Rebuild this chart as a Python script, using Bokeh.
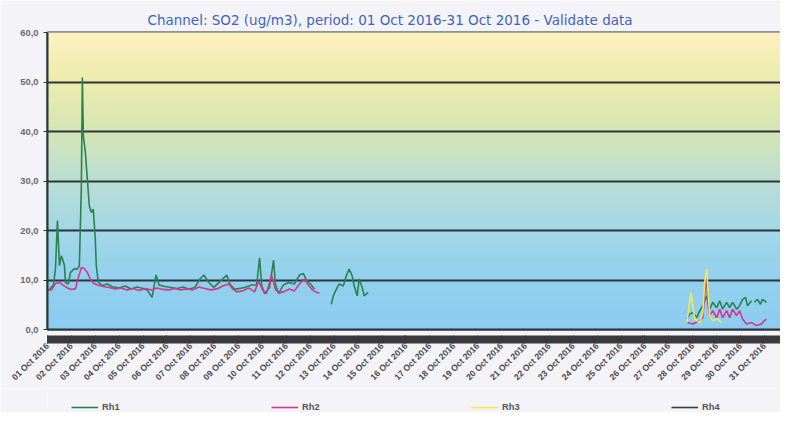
import numpy as np
import pandas as pd
from bokeh.plotting import figure
from bokeh.layouts import column
from bokeh.models import FixedTicker, Legend, LegendItem, Range1d, ColumnDataSource
from bokeh.embed import file_html
from bokeh.resources import INLINE

nan = float("nan")

# ---- data (hours since 01 Oct 2016 00:00, value in ug/m3) ----
rh1_hours = [0, 2, 6, 8, 10, 12, 14, 17, 18, 21, 23, 27, 30, 32, 34, 35, 36, 38, 40, 42, 44, 46, 48, 49, 51, 55,
             60, 66, 72, 78, 84, 90, 96, 100, 105, 109, 112, 118, 124, 130, 136, 142, 148, 153, 157, 162, 167,
             180, 183, 188, 198, 205, 210, 213, 215, 218, 223, 227, 229, 232, 237, 242, 248, 253, 257, 260, 265, 268,
             276,
             285, 287, 290, 293, 297, 300, 303, 306, 308, 311, 313, 316, 318, 322,
             400,
             642, 645, 648, 652, 655, 658, 662, 665, 668, 672, 675, 678, 682, 685, 688, 692, 695, 698, 701, 703, 707,
             708,
             710, 713, 716, 718, 722]
rh1_values = [8.0, 8.1, 9.0, 12.2, 22.0, 12.9, 14.9, 13.0, 9.5, 9.2, 11.5, 12.3, 12.2, 12.9, 29.0, 50.9, 39.1, 35.8,
              30.4, 25.0, 23.6, 24.3, 18.2, 12.9, 9.5, 8.9,
              9.2, 8.6, 8.4, 8.8, 8.2, 8.6, 8.3, 8.0, 6.5, 11.0, 9.0, 8.7, 8.5, 8.3, 8.6, 8.2, 8.5, 10.2, 11.0, 9.5, 8.5,
              11.0, 9.2, 8.1, 8.5, 9.0, 9.0, 14.5, 9.0, 7.2, 8.5, 14.0, 9.0, 7.3, 9.0, 9.5, 9.2, 11.0, 11.3, 10.0, 9.0, 8.1,
              nan,
              5.1, 6.8, 8.1, 9.2, 8.8, 10.8, 12.2, 10.8, 8.8, 6.8, 10.2, 8.5, 6.8, 7.5,
              nan,
              2.1, 3.1, 3.4, 2.4, 3.8, 4.8, 6.8, 4.1, 5.5, 4.4, 5.8, 4.1, 5.5, 4.4, 5.5, 4.1, 4.8, 6.1, 6.5, 4.8, 5.8,
              nan,
              5.5, 6.1, 5.1, 6.1, 5.5]

rh2_hours = [0, 4, 8, 12, 16, 20, 24, 28, 31, 34, 37, 40, 43, 46, 50, 56, 62, 68, 74, 80, 86, 92, 98, 104, 110, 116,
             122, 128, 134, 140, 146, 152, 158, 164, 170, 176, 182, 186, 190, 196, 202, 208, 212, 216, 220, 225, 229,
             233, 238, 243, 248, 253, 258, 262, 266, 270, 273,
             400,
             642, 648, 655, 658, 660, 662, 663, 665, 668, 672, 675, 678, 682, 685, 688, 692, 695, 698, 702, 707, 712,
             717, 720, 722]
rh2_values = [8.0, 8.0, 9.3, 9.5, 8.9, 8.4, 8.1, 8.2, 10.5, 12.5, 12.3, 11.5, 10.2, 9.4, 9.0, 8.7, 8.5, 8.2, 8.4, 8.0,
              8.3, 7.9, 8.3, 8.0, 8.4, 8.1, 8.0, 8.3, 8.0, 8.2, 8.0, 8.6, 8.3, 8.0, 8.2, 8.8, 9.2, 8.2, 7.6, 7.8, 8.4,
              7.6, 9.8, 8.0, 7.3, 11.0, 8.0, 7.4, 7.7, 8.2, 7.8, 9.2, 10.2, 9.0, 8.0, 7.5, 7.4,
              nan,
              1.4, 1.1, 1.8, 2.4, 7.5, 10.8, 5.5, 2.8, 3.8, 2.4, 4.1, 2.4, 3.8, 2.4, 4.1, 2.8, 3.8, 2.1, 1.1, 1.4, 0.8,
              1.1, 1.8, 2.1]

rh3_hours = [642, 644, 646, 648, 650, 655, 658, 660, 662, 663, 665, 668, 673, 677]
rh3_values = [1.4, 4.1, 7.5, 4.8, 2.1, 1.4, 3.4, 9.5, 12.2, 8.8, 2.8, 1.8, 2.1, 1.4]

rh4_hours = [0]
rh4_values = [nan]

series_names = ["Rh1", "Rh2", "Rh3", "Rh4"]
series_colors = ["#2a8250", "#d4368c", "#ecec5a", "#3b3f46"]

y_ticks = [0, 10, 20, 30, 40, 50, 60]
y_tick_labels = ["0,0", "10,0", "20,0", "30,0", "40,0", "50,0", "60,0"]
n_days = 31
day_labels = [f"{d:02d} Oct 2016" for d in range(1, n_days + 1)]

# ---- helpers ----
HOUR = 3600000.0
DAY = 24 * HOUR
t0 = pd.Timestamp("2016-10-01").value / 1e6
PAGE_BG = "#f4f3f8"


def to_ms(hours):
    return [t0 + h * HOUR for h in hours]


x_start = t0
x_end = t0 + 30.67 * DAY

p = figure(frame_width=733, frame_height=297, x_axis_type="datetime", output_backend="svg", toolbar_location=None,
           x_range=Range1d(x_start, x_end), y_range=Range1d(0, 60),
           min_border_left=47, min_border_right=0, min_border_top=32, min_border_bottom=0)
p.border_fill_color = PAGE_BG
p.outline_line_color = "#2b353b"
p.outline_line_width = 2

# background gradient (yellow top -> sky blue bottom)
stops = [(0, (140, 204, 240)), (10, (146, 208, 238)), (20, (162, 215, 230)), (30, (186, 222, 212)),
         (40, (212, 229, 182)), (50, (236, 236, 172)), (60, (252, 240, 192))]
bands_b, bands_t, bands_c = [], [], []
n_bands = 60
for i in range(n_bands):
    yb = 60.0 * i / n_bands
    yt = 60.0 * (i + 1) / n_bands
    ym = (yb + yt) / 2
    for j in range(len(stops) - 1):
        if stops[j][0] <= ym <= stops[j + 1][0]:
            f = (ym - stops[j][0]) / (stops[j + 1][0] - stops[j][0])
            c = tuple(int(round(stops[j][1][k] + f * (stops[j + 1][1][k] - stops[j][1][k]))) for k in range(3))
            break
    bands_b.append(yb)
    bands_t.append(min(60.0, yt + 0.6))
    bands_c.append("#%02x%02x%02x" % c)
bg = p.quad(left=x_start, right=x_end, bottom=bands_b, top=bands_t, fill_color=bands_c,
            line_color=bands_c, line_width=1)
bg.level = "image"

# grid
p.xgrid.visible = False
p.ygrid.ticker = FixedTicker(ticks=y_ticks)
p.ygrid.grid_line_color = "#2b353b"
p.ygrid.grid_line_width = 2

# series
all_hours = [rh1_hours, rh2_hours, rh3_hours, rh4_hours]
all_vals = [rh1_values, rh2_values, rh3_values, rh4_values]
for name, col, hrs, vals in zip(series_names, series_colors, all_hours, all_vals):
    src = ColumnDataSource(dict(x=to_ms(hrs), y=vals))
    p.line("x", "y", source=src, line_color=col, line_width=1.6)

# y axis
p.yaxis.ticker = FixedTicker(ticks=y_ticks)
p.yaxis.major_label_overrides = {t: l for t, l in zip(y_ticks, y_tick_labels)}
p.yaxis.major_label_text_font = "Liberation Sans"
p.yaxis.major_label_text_font_size = "7pt"
p.yaxis.major_label_text_font_style = "bold"
p.yaxis.major_label_text_color = "#6a6a70"
p.yaxis.axis_line_color = "#2b353b"
p.yaxis.axis_line_width = 2
p.yaxis.major_tick_line_color = "#2b353b"
p.yaxis.major_tick_out = 4
p.yaxis.major_tick_in = 0
p.yaxis.minor_tick_line_color = None

# x axis
day_ticks = [t0 + d * DAY for d in range(n_days)]
p.xaxis.ticker = FixedTicker(ticks=day_ticks, minor_ticks=[t0 + h * HOUR for h in range(n_days * 24)])
p.xaxis.major_label_overrides = {t: l for t, l in zip(day_ticks, day_labels)}
p.xaxis.major_label_orientation = np.pi / 4
p.xaxis.major_label_text_font = "Liberation Sans"
p.xaxis.major_label_text_font_size = "6.5pt"
p.xaxis.major_label_text_font_style = "bold"
p.xaxis.major_label_text_color = "#4a4a50"
p.xaxis.major_label_standoff = 1
p.xaxis.axis_line_color = "#2b353b"
p.xaxis.axis_line_width = 2
p.xaxis.minor_tick_line_color = "#3a3a3e"
p.xaxis.minor_tick_in = -6
p.xaxis.minor_tick_out = 14
p.xaxis.minor_tick_line_width = 1
p.xaxis.major_tick_line_color = "#3a3a3e"
p.xaxis.major_tick_in = -6
p.xaxis.major_tick_out = 14

# title
p.title.text = "Channel: SO2 (ug/m3), period: 01 Oct 2016-31 Oct 2016 - Validate data"
p.title.text_color = "#3f63c0"
p.title.text_font = "DejaVu Sans"
p.title.text_font_size = "13.5px"
p.title.text_font_style = "normal"
p.title.align = "left"
p.title.offset = 100

# legend strip below the chart
lg = figure(width=780, height=24, output_backend="svg", toolbar_location=None,
            x_range=Range1d(0, 1), y_range=Range1d(0, 1),
            min_border_left=0, min_border_right=0, min_border_top=0, min_border_bottom=0)
lg.axis.visible = False
lg.grid.visible = False
lg.outline_line_color = None
lg.background_fill_color = PAGE_BG
lg.border_fill_color = PAGE_BG
items = []
for name, col in zip(series_names, series_colors):
    r = lg.line(x=[nan], y=[nan], line_color=col, line_width=1.6)
    items.append(LegendItem(label=name, renderers=[r]))
legend = Legend(items=items, orientation="horizontal", location=(24, 0),
                glyph_width=27, glyph_height=10, label_height=10, label_standoff=4, label_width=140, spacing=29,
                label_text_font="Liberation Sans", label_text_font_size="7pt", label_text_font_style="bold",
                label_text_color="#55555a", background_fill_alpha=0, border_line_color=None,
                padding=0, margin=0)
lg.add_layout(legend)

layout = column(p, lg, spacing=0)
open("out.html", "w").write(file_html(layout, INLINE))
